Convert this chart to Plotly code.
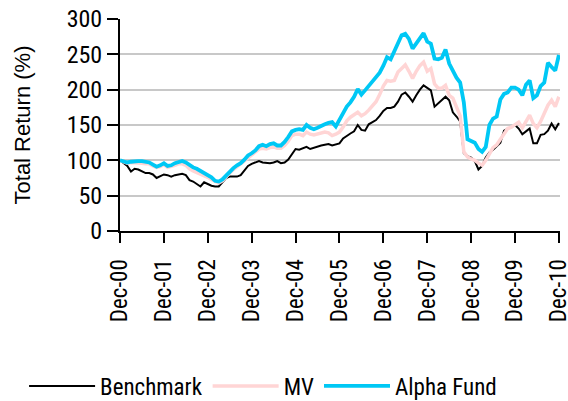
import plotly.graph_objects as go

months = list(range(121))
tick_labels = ["Dec-00", "Dec-01", "Dec-02", "Dec-03", "Dec-04", "Dec-05",
               "Dec-06", "Dec-07", "Dec-08", "Dec-09", "Dec-10"]
tick_positions = [0, 12, 24, 36, 48, 60, 72, 84, 96, 108, 120]

benchmark = [100, 96, 92, 84, 88, 87, 85, 82, 82, 80, 75, 78, 80, 79, 77, 79, 80, 81, 79, 72,
             70, 66, 63, 69, 66, 64, 63, 63, 69, 75, 77, 77, 77, 79, 85, 92, 95, 97, 99, 97,
             96, 96, 97, 99, 96, 97, 101, 109, 116, 115, 117, 119, 116, 118, 119, 121, 122, 123, 121, 122,
             124, 131, 135, 138, 141, 150, 143, 142, 151, 154, 157, 163, 170, 174, 174, 176, 183, 193, 196, 190,
             183, 192, 200, 206, 202, 199, 176, 181, 185, 190, 185, 168, 162, 155, 110, 106, 104, 99, 87, 92,
             104, 111, 115, 120, 125, 142, 145, 147, 150, 145, 137, 141, 145, 124, 124, 136, 137, 142, 152, 144,
             153]

mv = [100, 98, 96, 97, 97, 97, 96, 95, 95, 92, 90, 91, 94, 90, 91, 93, 95, 95, 93, 88,
      85, 83, 80, 78, 76, 73, 70, 68, 71, 77, 82, 87, 91, 95, 99, 104, 107, 111, 116, 117,
      116, 118, 119, 117, 117, 121, 127, 135, 137, 137, 135, 140, 137, 136, 137, 139, 140, 139, 135, 137,
      140, 147, 156, 161, 164, 168, 163, 166, 171, 177, 183, 193, 205, 213, 212, 213, 225, 230, 235, 226,
      216, 226, 234, 239, 226, 230, 208, 202, 202, 206, 192, 188, 176, 163, 112, 105, 102, 100, 96, 93,
      100, 110, 118, 122, 129, 138, 145, 147, 150, 154, 146, 156, 164, 152, 146, 155, 166, 178, 185, 176,
      190]

alpha = [100, 99, 97, 98, 99, 99, 99, 98, 97, 94, 91, 93, 96, 92, 93, 96, 98, 99, 97, 93,
         90, 88, 85, 82, 79, 76, 71, 70, 73, 79, 84, 89, 93, 96, 101, 107, 110, 114, 120, 122,
         120, 123, 124, 121, 121, 126, 133, 141, 143, 144, 143, 150, 146, 144, 146, 149, 151, 153, 154, 148,
         158, 166, 176, 182, 190, 201, 193, 199, 205, 211, 216, 224, 234, 246, 243, 255, 268, 277, 279, 272,
         258, 266, 274, 280, 268, 265, 244, 243, 245, 257, 237, 226, 217, 210, 182, 130, 128, 125, 116, 112,
         119, 150, 159, 162, 186, 194, 196, 203, 203, 200, 192, 207, 213, 188, 192, 205, 210, 238, 232, 227,
         249]

NARROW = "Roboto Condensed, Liberation Sans Narrow, Arial Narrow, sans-serif"
REGULAR = "Liberation Sans, Arial, sans-serif"

fig = go.Figure()
fig.add_trace(go.Scatter(x=months, y=benchmark, mode="lines", name="Benchmark",
                         line=dict(color="#000000", width=2)))
fig.add_trace(go.Scatter(x=months, y=mv, mode="lines", name="MV",
                         line=dict(color="#FFD5D5", width=3.5)))
fig.add_trace(go.Scatter(x=months, y=alpha, mode="lines", name="Alpha Fund",
                         line=dict(color="#00C8F5", width=3.8)))

fig.update_layout(
    width=568, height=401,
    margin=dict(l=120, r=8, t=19, b=170, autoexpand=False),
    paper_bgcolor="white", plot_bgcolor="white",
    font=dict(family=NARROW, size=23, color="#000000"),
    showlegend=True,
    legend=dict(orientation="h", x=-0.218, xanchor="left", y=-0.731, yanchor="middle",
                font=dict(family=NARROW, size=23), itemwidth=66,
                bgcolor="rgba(0,0,0,0)", traceorder="normal"),
    xaxis=dict(range=[0, 120.3], tickvals=tick_positions, ticktext=tick_labels,
               tickangle=-90, ticks="outside", ticklen=10, tickwidth=2, tickcolor="#000",
               showline=True, linecolor="#000", linewidth=2, showgrid=False, zeroline=False,
               automargin=False, ticklabeloverflow="allow", ticklabelstandoff=7,
               tickfont=dict(family=NARROW, size=23)),
    yaxis=dict(range=[0, 300], dtick=50, ticks="outside", ticklen=11, tickwidth=2, tickcolor="#000",
               showline=True, linecolor="#000", linewidth=2, showgrid=True,
               gridcolor="#C8C8C8", gridwidth=2, zeroline=False, automargin=False,
               ticklabeloverflow="allow",
               title=dict(text="Total Return (%)", font=dict(family=REGULAR, size=22), standoff=30),
               tickfont=dict(family=NARROW, size=24)),
)

fig.write_html("out.html", config={"displayModeBar": False},
               post_script="document.body.style.margin='0px';")
